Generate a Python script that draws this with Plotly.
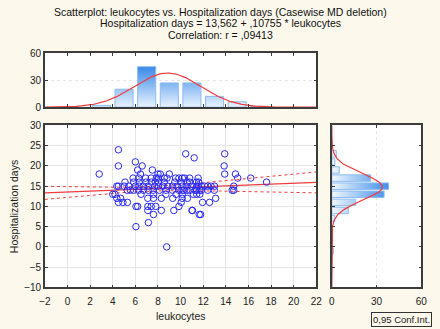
import numpy as np
import plotly.graph_objects as go

# ---------------- data ----------------
leukocytes = [
    4.5,                                  # 24
    10.45, 13.9,                          # 23
    11.2,                                 # 22
    6.0,                                  # 21
    4.5, 6.6, 13.85,                      # 20
    6.2, 7.5,                             # 19
    2.8, 6.45, 8.0, 8.2, 9.0, 13.9, 14.85,  # 18
    5.8, 6.3, 6.9, 7.4, 7.85, 8.05, 8.55, 8.8, 9.55, 9.85, 10.15, 10.35, 10.8, 11.55, 15.05, 16.2,  # 17
    5.08, 5.85, 6.33, 6.93, 7.42, 7.76, 8.05, 8.56, 9.48, 10.05, 10.57, 10.8, 11.4, 11.6, 17.6,    # 16
    4.36, 4.5, 5.0, 5.42, 6.0, 6.33, 6.71, 7.14, 7.7, 8.05, 8.42, 8.85, 9.28, 9.71, 10.13, 10.56,
    11.0, 11.42, 11.56, 11.85, 12.13, 12.4, 12.7, 13.0, 14.7,                                   # 15
    5.28, 5.56, 5.85, 6.28, 6.71, 7.14, 7.57, 8.13, 8.71, 9.28, 9.85, 10.28, 10.85, 11.42,
    10.14, 10.56, 11.28, 11.7, 11.85, 12.4, 12.98, 14.56, 14.7,                                  # 14
    4.0, 4.2, 6.5, 7.6, 8.7, 9.6, 10.14, 11.13, 11.42, 11.7,                                   # 13
    4.36, 4.7, 7.1, 7.6, 8.3, 9.3, 10.6, 10.14, 13.1,                                           # 12
    4.5, 4.9, 5.3, 10.05, 11.94, 12.56,                                                          # 11
    6.05, 6.2, 7.1, 7.4, 7.8, 9.85,                                                              # 10
    7.1, 8.3, 9.4, 11.0, 11.05,                                                                  # 9
    7.6, 11.65, 11.77,                                                                           # 8
    7.15, 6.05, 8.77,                                                                            # 6, 5, 0
]
hosp_days = (
    [24] + [23] * 2 + [22] + [21] + [20] * 3 + [19] * 2 + [18] * 7 + [17] * 16 + [16] * 15
    + [15] * 25 + [14] * 23 + [13] * 10 + [12] * 9 + [11] * 6 + [10] * 6 + [9] * 5 + [8] * 3
    + [6, 5, 0]
)

# regression from the title
intercept = 13.562
slope = 0.10755
# confidence band
ci_center = 7.0
ci_half_at_center = 0.55
ci_growth = 0.168

# histogram of leukocytes (top)
leuk_bin_centers = [3, 5, 7, 9, 11, 13, 15, 17]
leuk_bin_counts = [2, 20, 45, 27, 27, 12, 6, 1]
# histogram of hospitalization days (right)
days_bin_centers = [23, 21, 19, 17, 15, 13, 11, 9, 7, 5, 3, 1, -1]
days_bin_counts = [3, 2, 5, 26, 38, 35, 16, 11, 2, 0, 0, 0, 1]
bin_width = 2.0

# normal curve parameters
n_cases = 140
leuk_mean, leuk_sd = 8.85, 2.94
days_mean, days_sd = 14.8, 3.3

title_lines = [
    "Scatterplot: leukocytes vs. Hospitalization days (Casewise MD deletion)",
    "Hospitalization days = 13,562 + ,10755 * leukocytes",
    "Correlation: r = ,09413",
]
x_label = "leukocytes"
y_label = "Hospitalization days"
legend_text = "0,95 Conf.Int."

# ---------------- styling ----------------
BG = "#FCF8EC"
FRAME = "#3c3c3c"
GRID = "#e6e6e6"
RED = "#f03c3c"
BLUE = "#2a2af0"
FONT = "Liberation Sans, Arial, sans-serif"
W, H = 440, 329

def px_x(p):
    return p / W

def px_y(p):
    return 1 - p / H

main_x = [px_x(40), px_x(319)]
main_y = [px_y(292), px_y(124)]
top_y = [px_y(105), px_y(49)]
right_x = [px_x(335), px_x(427)]

fig = go.Figure()

xs = np.linspace(-2, 22, 200)
yl = intercept + slope * xs
hw = np.sqrt(ci_half_at_center ** 2 + (ci_growth * (xs - ci_center)) ** 2)

fig.add_trace(go.Scatter(x=xs, y=yl + hw, mode="lines", line=dict(color=RED, width=1, dash="dot"),
                         xaxis="x", yaxis="y", hoverinfo="skip"))
fig.add_trace(go.Scatter(x=xs, y=yl - hw, mode="lines", line=dict(color=RED, width=1, dash="dot"),
                         xaxis="x", yaxis="y", hoverinfo="skip"))
fig.add_trace(go.Scatter(x=xs, y=yl, mode="lines", line=dict(color=RED, width=1.2),
                         xaxis="x", yaxis="y", hoverinfo="skip"))
fig.add_trace(go.Scatter(x=leukocytes, y=hosp_days, mode="markers",
                         marker=dict(symbol="circle-open", size=6.5, color=BLUE, line=dict(width=1)),
                         xaxis="x", yaxis="y"))

# top histogram as gradient polygons
half = bin_width * 0.4
bx, by = [], []
for c, k in zip(leuk_bin_centers, leuk_bin_counts):
    if k <= 0:
        continue
    bx += [c - half, c - half, c + half, c + half, c - half, None]
    by += [0, k, k, 0, 0, None]
fig.add_trace(go.Scatter(x=bx, y=by, mode="lines", fill="toself",
                         fillgradient=dict(type="vertical", colorscale=[[0, "#f2f8ff"], [1, "#3a8ae8"]],
                                           start=0, stop=max(leuk_bin_counts)),
                         line=dict(color="#8dbcf0", width=1), xaxis="x2", yaxis="y2", hoverinfo="skip"))
xc = np.linspace(-2, 22, 300)
fig.add_trace(go.Scatter(x=xc, y=n_cases * bin_width / (leuk_sd * np.sqrt(2 * np.pi)) * np.exp(-0.5 * ((xc - leuk_mean) / leuk_sd) ** 2),
                         mode="lines", line=dict(color=RED, width=1.2), xaxis="x2", yaxis="y2", hoverinfo="skip"))

# right histogram
hx, hy = [], []
for c, k in zip(days_bin_centers, days_bin_counts):
    if k <= 0:
        continue
    hy += [c - half, c + half, c + half, c - half, c - half, None]
    hx += [0, 0, k, k, 0, None]
fig.add_trace(go.Scatter(x=hx, y=hy, mode="lines", fill="toself",
                         fillgradient=dict(type="horizontal", colorscale=[[0, "#f2f8ff"], [1, "#3a8ae8"]],
                                           start=0, stop=max(days_bin_counts)),
                         line=dict(color="#8dbcf0", width=1), xaxis="x3", yaxis="y3", hoverinfo="skip"))
yc = np.linspace(-10, 30, 300)
fig.add_trace(go.Scatter(y=yc, x=n_cases * bin_width / (days_sd * np.sqrt(2 * np.pi)) * np.exp(-0.5 * ((yc - days_mean) / days_sd) ** 2),
                         mode="lines", line=dict(color=RED, width=1.2), xaxis="x3", yaxis="y3", hoverinfo="skip"))

tickfont = dict(family=FONT, size=10, color="#222")
common = dict(showline=True, linecolor=FRAME, linewidth=1.5, mirror="ticks", ticks="inside",
              ticklen=3, tickcolor=FRAME, tickfont=tickfont, zeroline=False)

annotations = []
for i, line in enumerate(title_lines):
    annotations.append(dict(text=line, x=0.5, y=px_y(6 + 12 * i), xref="paper", yref="paper",
                            xanchor="center", yanchor="middle", showarrow=False,
                            font=dict(family=FONT, size=10.5, color="#111")))
annotations += [
    dict(text=x_label, x=(main_x[0] + main_x[1]) / 2, y=px_y(322), xref="paper", yref="paper",
         xanchor="center", yanchor="middle", showarrow=False, font=dict(family=FONT, size=10.5, color="#222")),
    dict(text=y_label, x=px_x(9), y=(main_y[0] + main_y[1]) / 2, xref="paper", yref="paper",
         xanchor="center", yanchor="middle", textangle=-90, showarrow=False,
         font=dict(family=FONT, size=10.5, color="#222")),
    dict(text=legend_text, x=px_x(438), y=px_y(325), xref="paper", yref="paper", xanchor="right",
         yanchor="middle", showarrow=False, bordercolor="#333", borderwidth=1, borderpad=1, bgcolor=BG,
         font=dict(family=FONT, size=9.5, color="#222")),
]

fig.update_layout(
    width=W, height=H, margin=dict(l=0, r=0, t=0, b=0),
    paper_bgcolor=BG, plot_bgcolor="white", showlegend=False,
    font=dict(family=FONT),
    xaxis=dict(domain=main_x, range=[-2, 22], dtick=2, tick0=-2, showgrid=True, gridcolor=GRID,
               anchor="y", ticklabelstandoff=4, **common),
    yaxis=dict(domain=main_y, range=[-10, 30], dtick=5, showgrid=True, gridcolor=GRID, anchor="x", **common),
    xaxis2=dict(domain=main_x, range=[-2, 22], dtick=2, tick0=-2, showgrid=False, showticklabels=False,
                anchor="y2", **common),
    yaxis2=dict(domain=top_y, range=[0, 60], tickvals=[0, 30, 60], showgrid=True, gridcolor=GRID,
                griddash="dot", anchor="x2", **common),
    xaxis3=dict(domain=right_x, range=[0, 60], tickvals=[0, 30, 60], showgrid=True, gridcolor=GRID,
                griddash="dot", anchor="y3", ticklabelstandoff=4, **common),
    yaxis3=dict(domain=main_y, range=[-10, 30], dtick=5, showgrid=False, showticklabels=False,
                anchor="x3", **common),
    annotations=annotations,
)

fig.write_html("out.html", config={"displayModeBar": False},
               post_script="document.body.style.margin='0';document.body.style.overflow='hidden';")
